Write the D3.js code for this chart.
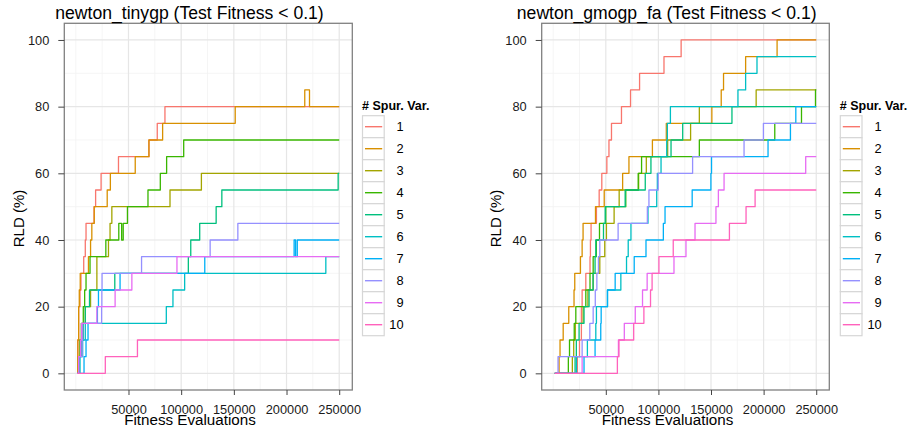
<!DOCTYPE html>
<html>
<head>
<meta charset="utf-8">
<script src="https://cdn.jsdelivr.net/npm/d3@7"></script>
<style>
  body { margin: 0; background: #fff; }
  text { font-family: "Liberation Sans", Arial, Helvetica, sans-serif; }
</style>
</head>
<body>
<svg id="chart" width="912" height="433"></svg>
<script>
// ---------------- data ----------------
const categories = ["1", "2", "3", "4", "5", "6", "7", "8", "9", "10"];
const seriesColors = ["#F8766D", "#D89000", "#A3A500", "#39B600", "#00BF7D",
                      "#00BFC4", "#00B0F6", "#9590FF", "#E76BF3", "#FF62BC"];
const xTicks = [50000, 100000, 150000, 200000, 250000];
const xMinorTicks = [0, 25000, 75000, 125000, 175000, 225000];
const yTicks = [0, 20, 40, 60, 80, 100];
const yMinorTicks = [10, 30, 50, 70, 90];
const panelTitles = ["newton_tinygp (Test Fitness < 0.1)", "newton_gmogp_fa (Test Fitness < 0.1)"];
const xTitle = "Fitness Evaluations";
const yTitle = "RLD (%)";
const legendTitle = "# Spur. Var.";

// [fitness evaluations, RLD %] change points for each # spurious variables
const tinygpSteps = [
  [[1500,0],[1800,10],[2700,20],[4000,25],[4900,30],[7500,35],[9000,40],[9700,45],[17300,50],[18800,55],[24000,60],[40500,65],[69400,70],[77300,75],[84600,80],[250000,80]],
  [[1500,0],[2000,10],[2700,20],[3300,25],[4200,30],[12000,35],[14000,40],[15200,45],[17500,50],[29800,55],[32800,60],[56400,65],[69400,70],[82400,75],[151300,80],[217300,85],[221800,80],[250000,80]],
  [[1500,0],[2500,5],[4000,10],[6500,15],[9000,20],[14000,25],[20000,35],[31000,40],[32500,45],[34200,50],[89400,55],[119200,60],[250000,60]],
  [[1500,0],[2700,5],[4000,10],[5200,15],[7100,20],[8400,25],[9700,30],[13500,35],[28500,40],[40800,45],[43500,40],[45000,45],[49000,50],[68500,55],[80200,60],[86200,65],[102400,70],[250000,70]],
  [[1500,0],[3300,5],[5200,10],[7100,15],[9000,20],[13000,25],[37000,30],[106800,35],[109100,40],[117600,45],[133200,50],[138600,55],[249000,60],[250000,60]],
  [[1500,0],[4000,5],[6500,10],[9000,15],[85900,20],[92200,25],[103300,30],[237300,35],[250000,35]],
  [[1500,0],[7800,5],[9700,10],[11600,15],[20500,20],[21500,25],[42000,30],[122400,35],[207200,40],[208600,35],[210200,40],[250000,40]],
  [[1500,0],[2700,5],[6000,10],[6600,15],[24500,20],[24700,25],[24900,30],[62400,35],[127500,40],[153800,45],[250000,45]],
  [[1500,0],[2700,5],[4500,10],[5500,15],[20000,20],[37300,25],[53200,30],[96000,35],[250000,35]],
  [[1500,0],[28000,5],[58500,10],[250000,10]]
];

const gmogpSteps = [
  [[1500,0],[23000,5],[25000,10],[26800,20],[27500,25],[31000,30],[35000,35],[35400,40],[36000,45],[41100,50],[43700,55],[46200,60],[51000,65],[53000,70],[55400,75],[64900,80],[73500,85],[82100,90],[105300,95],[121600,100],[250000,100]],
  [[1500,0],[5600,5],[6500,10],[9500,15],[14800,20],[19800,25],[20500,30],[25900,35],[27500,40],[28400,45],[40200,50],[48500,55],[66000,60],[72000,65],[94300,70],[107500,75],[150800,80],[159700,85],[161900,90],[182900,95],[212800,100],[250000,100]],
  [[1500,0],[18200,5],[19500,10],[21000,15],[28400,20],[33000,25],[38000,30],[44300,35],[49000,40],[50600,45],[57900,50],[62700,55],[81200,60],[88500,65],[108800,70],[130600,75],[138900,80],[192900,85],[250000,85]],
  [[1500,0],[14400,5],[15500,10],[20000,15],[21500,20],[31000,25],[35000,30],[38000,35],[41000,40],[44000,45],[50000,50],[69000,55],[80800,60],[84000,65],[138900,70],[210600,75],[236000,80],[249300,85],[250000,85]],
  [[1500,0],[20800,5],[22000,10],[24600,15],[29300,20],[34100,25],[37900,30],[39800,35],[40500,40],[47800,45],[49400,50],[68400,55],[87500,60],[92900,65],[112000,70],[123100,75],[169900,80],[250000,80]],
  [[1500,0],[22100,5],[32500,10],[40500,15],[41100,20],[51600,25],[64300,30],[69700,35],[71300,40],[73900,45],[90100,50],[98400,55],[99000,60],[102500,65],[107900,70],[108500,75],[111400,80],[175600,85],[182900,90],[193700,95],[250000,95]],
  [[1500,0],[29300,5],[39800,10],[45200,15],[45600,20],[51600,25],[58900,30],[77000,35],[88200,40],[104700,45],[106300,50],[132100,55],[149900,60],[150500,65],[204200,70],[225500,75],[230600,80],[250000,80]],
  [[1500,0],[4600,5],[27500,10],[34800,15],[38000,20],[40000,25],[41500,30],[43000,35],[44300,40],[61700,45],[89500,50],[91000,55],[99800,60],[132500,65],[181400,70],[199800,75],[250000,75]],
  [[1500,0],[27500,5],[62000,10],[67600,15],[78000,20],[84900,25],[89300,30],[114800,35],[126200,40],[134800,45],[154700,50],[157000,55],[162400,60],[240000,65],[250000,65]],
  [[1500,0],[61000,5],[62500,10],[76500,15],[86200,20],[92500,25],[94000,30],[100500,35],[114100,40],[167500,45],[183300,50],[191900,55],[250000,55]]
];

// ---------------- drawing ----------------
const svg = d3.select("#chart");
svg.append("rect").attr("width", 912).attr("height", 433).attr("fill", "#fff");

function drawPanel(cfg) {
  const { left, right, top, bottom, steps, title, titleX, yTitleX, xTitleX, legendX, legendLabelX } = cfg;

  const allX = steps.flat().map(d => d[0]);
  const [xmin, xmax] = d3.extent(allX);
  const xpad = (xmax - xmin) * 0.05;
  const x = d3.scaleLinear().domain([xmin - xpad, xmax + xpad]).range([left, right]);
  const y = d3.scaleLinear().domain([-5, 105]).range([bottom, top]);

  const g = svg.append("g");

  // panel background
  g.append("rect").attr("x", left).attr("y", top)
    .attr("width", right - left).attr("height", bottom - top).attr("fill", "#fff");

  // minor grid
  g.selectAll(null).data(xMinorTicks).join("line")
    .attr("x1", d => x(d)).attr("x2", d => x(d)).attr("y1", top).attr("y2", bottom)
    .attr("stroke", "#f2f2f2").attr("stroke-width", 0.8);
  g.selectAll(null).data(yMinorTicks).join("line")
    .attr("x1", left).attr("x2", right).attr("y1", d => y(d)).attr("y2", d => y(d))
    .attr("stroke", "#f2f2f2").attr("stroke-width", 0.8);
  // major grid
  g.selectAll(null).data(xTicks).join("line")
    .attr("x1", d => x(d)).attr("x2", d => x(d)).attr("y1", top).attr("y2", bottom)
    .attr("stroke", "#e6e6e6").attr("stroke-width", 1.2);
  g.selectAll(null).data(yTicks).join("line")
    .attr("x1", left).attr("x2", right).attr("y1", d => y(d)).attr("y2", d => y(d))
    .attr("stroke", "#e6e6e6").attr("stroke-width", 1.2);

  // lines
  const line = d3.line().x(d => x(d[0])).y(d => y(d[1])).curve(d3.curveStepAfter);
  steps.forEach((s, i) => {
    g.append("path").datum(s).attr("d", line)
      .attr("fill", "none").attr("stroke", seriesColors[i])
      .attr("stroke-width", 1.3).attr("stroke-linejoin", "round");
  });

  // border
  g.append("rect").attr("x", left).attr("y", top)
    .attr("width", right - left).attr("height", bottom - top)
    .attr("fill", "none").attr("stroke", "#808080").attr("stroke-width", 1.3);

  // axes
  const yAxis = d3.axisLeft(y).tickValues(yTicks).tickSize(6).tickPadding(9);
  const ya = g.append("g").attr("transform", `translate(${left},0)`).call(yAxis);
  ya.select(".domain").remove();
  ya.selectAll("line").attr("stroke", "#444");
  ya.selectAll("text").attr("font-size", "12.8px").attr("fill", "#1a1a1a")
    .attr("font-family", "Liberation Sans, Arial, sans-serif");

  const xAxis = d3.axisBottom(x).tickValues(xTicks).tickSize(5).tickPadding(10).tickFormat(d3.format("d"));
  const xa = g.append("g").attr("transform", `translate(0,${bottom})`).call(xAxis);
  xa.select(".domain").remove();
  xa.selectAll("line").attr("stroke", "#444");
  xa.selectAll("text").attr("font-size", "12.8px").attr("fill", "#1a1a1a")
    .attr("font-family", "Liberation Sans, Arial, sans-serif");

  // titles
  g.append("text").attr("x", titleX).attr("y", 19).attr("text-anchor", "middle")
    .attr("font-size", "17.6px").attr("fill", "#000").text(title);
  g.append("text").attr("x", xTitleX).attr("y", 425).attr("text-anchor", "middle")
    .attr("font-size", "15.2px").attr("fill", "#000").text(xTitle);
  g.append("text").attr("transform", `translate(${yTitleX},218.5) rotate(-90)`)
    .attr("text-anchor", "middle").attr("font-size", "15px").attr("fill", "#000").text(yTitle);

  // legend
  const lg = g.append("g");
  lg.append("text").attr("x", legendX).attr("y", 109.5).attr("font-size", "12.5px")
    .attr("font-weight", "bold").attr("fill", "#000").text(legendTitle);
  const keyTop = 115.7, keyH = 22, keyW = 21.7;
  categories.forEach((c, i) => {
    const ky = keyTop + i * keyH;
    lg.append("rect").attr("x", legendX + 0.5).attr("y", ky)
      .attr("width", keyW).attr("height", keyH)
      .attr("fill", "#fff").attr("stroke", "#d6d6d6").attr("stroke-width", 1.2);
    lg.append("line").attr("x1", legendX + 3).attr("x2", legendX + keyW - 1.5)
      .attr("y1", ky + keyH / 2).attr("y2", ky + keyH / 2)
      .attr("stroke", seriesColors[i]).attr("stroke-width", 1.4);
    lg.append("text").attr("x", legendLabelX).attr("y", ky + keyH / 2 + 4.5)
      .attr("text-anchor", "end").attr("font-size", "12.8px").attr("fill", "#000").text(c);
  });
}

drawPanel({
  left: 64.3, right: 352.3, top: 23.3, bottom: 390,
  steps: tinygpSteps, title: panelTitles[0],
  titleX: 189.5, xTitleX: 190, yTitleX: 23.5,
  legendX: 362, legendLabelX: 403.5
});
drawPanel({
  left: 541.7, right: 829.3, top: 23.3, bottom: 390,
  steps: gmogpSteps, title: panelTitles[1],
  titleX: 666.7, xTitleX: 667.5, yTitleX: 500.5,
  legendX: 839.8, legendLabelX: 881.7
});
</script>
</body>
</html>
